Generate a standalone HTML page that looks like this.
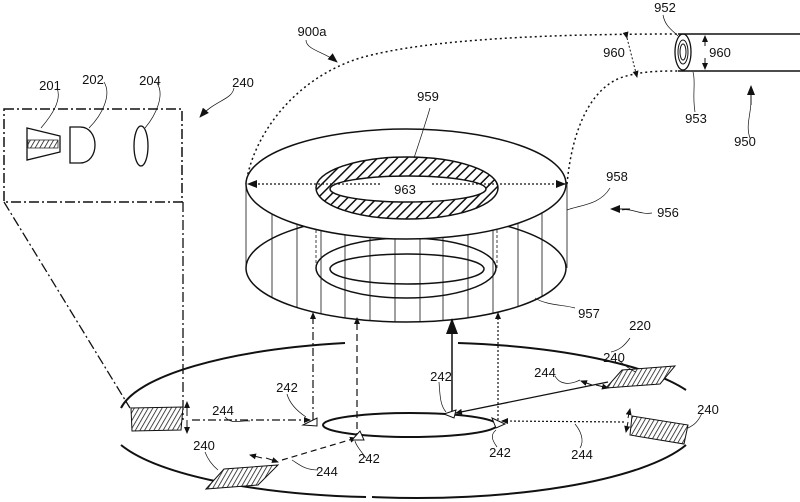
<!DOCTYPE html>
<html><head><meta charset="utf-8"><style>
html,body{margin:0;padding:0;background:#fff;}
svg{display:block;}
text{font-family:"Liberation Sans",sans-serif;font-size:13px;fill:#111;}
</style></head><body>
<svg width="800" height="502" viewBox="0 0 800 502" xmlns="http://www.w3.org/2000/svg">
<defs>
<pattern id="h" patternUnits="userSpaceOnUse" width="7" height="7" patternTransform="rotate(45)">
<rect width="7" height="7" fill="#fff"/><line x1="0" y1="0" x2="0" y2="7" stroke="#111" stroke-width="3"/>
</pattern>
<pattern id="h2" patternUnits="userSpaceOnUse" width="4" height="4" patternTransform="rotate(30)">
<rect width="4" height="4" fill="#fff"/><line x1="0" y1="0" x2="0" y2="4" stroke="#111" stroke-width="1.5"/>
</pattern>
<marker id="a" markerWidth="10" markerHeight="8" refX="9" refY="4" orient="auto" markerUnits="userSpaceOnUse"><path d="M0,0 L10,4 L0,8 Z" fill="#111"/></marker>
<marker id="as" markerWidth="7" markerHeight="6" refX="6" refY="3" orient="auto" markerUnits="userSpaceOnUse"><path d="M0,0 L7,3 L0,6 Z" fill="#111"/></marker>
</defs>
<g fill="none" stroke="#111">
<path d="M246,184 C252,140 290,80 360,58 C430,38 560,34 678,34" stroke-dasharray="2,3" stroke-width="1.5"/>
<path d="M567,184 C572,130 590,90 620,78 C640,71 660,71 678,71" stroke-dasharray="2,3" stroke-width="1.5"/>
<line x1="678" y1="34" x2="800" y2="34" stroke-width="1.5"/>
<line x1="678" y1="71" x2="800" y2="71" stroke-width="1.5"/>
<ellipse cx="683" cy="52" rx="8" ry="18" stroke-width="1.3"/>
<ellipse cx="683" cy="52" rx="5" ry="12" stroke-width="1"/>
<ellipse cx="683" cy="52" rx="3" ry="8" stroke-width="1"/>
<line x1="705" y1="46" x2="705" y2="36" marker-end="url(#as)"/>
<line x1="705" y1="58" x2="705" y2="69" marker-end="url(#as)"/>
<line x1="627" y1="38" x2="637" y2="77" stroke-dasharray="2,2" marker-end="url(#as)" marker-start="url(#as)"/>
<path d="M663,15 C665,26 672,30 678,36" stroke-width="0.7"/>
<path d="M695,112 C692,95 696,82 693,72" stroke-width="0.7"/>
<path d="M750,138 C745,125 752,112 751,97" stroke-width="0.7"/>
<line x1="751" y1="105" x2="751" y2="86" marker-end="url(#a)"/>
<path d="M306,40 C306,50 325,52 337,62" stroke-width="0.7" marker-end="url(#a)"/>
<path d="M234,88 C232,100 215,100 200,117" stroke-width="0.7" marker-end="url(#a)"/>
<rect x="4" y="109" width="178" height="93" stroke-dasharray="10,3,2,3" stroke-width="1.5"/>
<path d="M27,128 L60,136 L60,152 L27,160 Z" stroke-width="1.3"/>
<rect x="28" y="140" width="30" height="8" fill="url(#h2)" stroke-width="0.7"/>
<path d="M70,127 L80,127 C100,127 100,163 80,163 L70,163 Z" stroke-width="1.3"/>
<ellipse cx="141" cy="146" rx="7" ry="20" stroke-width="1.3"/>
<path d="M57,88 C62,100 52,115 41,128" stroke-width="0.7"/>
<path d="M104,82 C112,95 102,115 89,128" stroke-width="0.7"/>
<path d="M157,83 C165,95 156,115 145,128" stroke-width="0.7"/>
<line x1="4" y1="202" x2="130" y2="408" stroke-dasharray="10,3,2,3" stroke-width="1.3"/>
<line x1="183" y1="202" x2="183" y2="420" stroke-dasharray="10,3,2,3" stroke-width="1.3"/>
<line x1="246" y1="184" x2="246" y2="268" stroke-width="0.8"/>
<line x1="567" y1="184" x2="567" y2="268" stroke-width="0.8"/>
<g stroke-width="0.8">
<line x1="272" y1="214" x2="272" y2="298"/><line x1="297" y1="224" x2="297" y2="308"/>
<line x1="321" y1="231" x2="321" y2="314"/><line x1="345" y1="235" x2="345" y2="318"/>
<line x1="370" y1="238" x2="370" y2="321"/><line x1="395" y1="239" x2="395" y2="322"/>
<line x1="420" y1="239" x2="420" y2="322"/><line x1="443" y1="238" x2="443" y2="321"/>
<line x1="468" y1="235" x2="468" y2="318"/><line x1="493" y1="230" x2="493" y2="313"/>
<line x1="518" y1="223" x2="518" y2="307"/><line x1="542" y1="213" x2="542" y2="296"/>
</g>
<ellipse cx="406" cy="268" rx="160" ry="54" stroke-width="1.5"/>
<ellipse cx="406" cy="268" rx="90" ry="30" stroke-width="1.5"/>
<ellipse cx="407" cy="269" rx="77" ry="15" stroke-width="1.5"/>
<line x1="316" y1="190" x2="316" y2="268" stroke-dasharray="3,2" stroke-width="0.8"/>
<line x1="497" y1="190" x2="497" y2="268" stroke-dasharray="3,2" stroke-width="0.8"/>
<ellipse cx="406" cy="184" rx="160" ry="55" fill="#fff" stroke-width="1.5"/>
<path d="M316,188 A91,31 0 1 0 498,188 A91,31 0 1 0 316,188 Z M330,189 A78,13 0 1 1 486,189 A78,13 0 1 1 330,189 Z" fill="url(#h)" fill-rule="evenodd" stroke-width="1.5"/>
<line x1="380" y1="184" x2="248" y2="184" stroke-dasharray="2,2" stroke-width="1.3" marker-end="url(#a)"/>
<line x1="432" y1="184" x2="565" y2="184" stroke-dasharray="2,2" stroke-width="1.3" marker-end="url(#a)"/>
<path d="M414,158 C420,140 425,125 430,108" stroke-width="0.7"/>
<path d="M567,210 C580,205 600,205 610,188" stroke-width="0.7"/>
<path d="M575,308 C565,305 545,305 535,298" stroke-width="0.7"/>
<path d="M652,213 C640,215 632,208 622,210" stroke-width="0.7"/>
<line x1="630" y1="209" x2="611" y2="209" marker-end="url(#a)"/>
<path d="M345,343 A283,77 0 0 0 121,408" stroke-width="2"/>
<path d="M121,445 A283,77 0 0 0 366,497" stroke-width="2"/>
<path d="M372,497 A283,77 0 0 0 686,445" stroke-width="2"/>
<path d="M686,390 A283,77 0 0 0 458,343" stroke-width="2"/>
<path d="M630,338 C625,345 620,350 611,352" stroke-width="0.7"/>
<ellipse cx="410" cy="425" rx="87" ry="12" stroke-width="2"/>
<line x1="313" y1="420" x2="313" y2="313" stroke-dasharray="8,3,2,3" stroke-width="1.2" marker-end="url(#as)"/>
<line x1="357" y1="440" x2="357" y2="318" stroke-dasharray="7,4" stroke-width="1.2" marker-end="url(#as)"/>
<line x1="452" y1="412" x2="452" y2="332" stroke-width="1.5"/>
<path d="M446,334 L452,318 L458,334 Z" fill="#111" stroke="none"/>
<line x1="498" y1="420" x2="498" y2="313" stroke-dasharray="2,2" stroke-width="1.2" marker-end="url(#as)"/>
<line x1="192" y1="420" x2="310" y2="420" stroke-dasharray="8,3,2,3" stroke-width="1.2" marker-end="url(#as)"/>
<line x1="282" y1="460" x2="356" y2="438" stroke-dasharray="6,4" stroke-width="1.2" marker-end="url(#as)"/>
<line x1="608" y1="382" x2="456" y2="413" stroke-width="1.3" marker-end="url(#as)"/>
<line x1="624" y1="422" x2="502" y2="421" stroke-dasharray="2,2" stroke-width="1.2" marker-end="url(#as)"/>
<path d="M303,425 L317,418 L317,426 Z" fill="#fff" stroke-width="1"/>
<path d="M352,440 L360,431 L364,440 Z" fill="#fff" stroke-width="1"/>
<path d="M444,414 L456,410 L454,418 Z" fill="#fff" stroke-width="1"/>
<path d="M492,418 L505,424 L496,428 Z" fill="#fff" stroke-width="1"/>
<path d="M131,408 L183,407 L181,430 L132,431 Z" fill="url(#h2)" stroke-width="1"/>
<path d="M632,416 L688,425 L684,444 L630,435 Z" fill="url(#h2)" stroke-width="1"/>
<path d="M606,388 L622,370 L675,366 L660,384 Z" fill="url(#h2)" stroke-width="1"/>
<path d="M206,489 L224,469 L278,465 L258,485 Z" fill="url(#h2)" stroke-width="1"/>
<line x1="187" y1="416" x2="187" y2="402" marker-end="url(#as)"/><line x1="187" y1="420" x2="187" y2="433" marker-end="url(#as)"/>
<line x1="628" y1="418" x2="630" y2="409" marker-end="url(#as)"/><line x1="628" y1="422" x2="626" y2="432" marker-end="url(#as)"/>
<line x1="592" y1="385" x2="581" y2="381" marker-end="url(#as)"/><line x1="596" y1="385" x2="608" y2="388" marker-end="url(#as)"/>
<line x1="262" y1="458" x2="250" y2="455" marker-end="url(#as)"/><line x1="266" y1="458" x2="278" y2="462" marker-end="url(#as)"/>
<path d="M225,417 C232,425 240,420 250,421" stroke-width="0.7"/>
<path d="M287,394 C290,405 300,413 306,417" stroke-width="0.7"/>
<path d="M439,382 C440,395 440,405 446,412" stroke-width="0.7"/>
<path d="M555,376 C560,385 570,385 580,380" stroke-width="0.7"/>
<path d="M618,360 C625,365 630,370 636,372" stroke-width="0.7"/>
<path d="M702,413 C698,422 694,425 688,428" stroke-width="0.7"/>
<path d="M497,447 C492,440 490,435 496,430" stroke-width="0.7"/>
<path d="M580,448 C585,440 580,430 575,424" stroke-width="0.7"/>
<path d="M366,458 C360,450 356,445 355,441" stroke-width="0.7"/>
<path d="M318,470 C305,470 300,465 292,460" stroke-width="0.7"/>
<path d="M205,452 C208,460 212,465 218,470" stroke-width="0.7"/>
</g>
<g text-anchor="middle">
<text x="312" y="36">900a</text>
<text x="243" y="87">240</text>
<text x="50" y="90">201</text>
<text x="93" y="84">202</text>
<text x="150" y="85">204</text>
<text x="665" y="12">952</text>
<text x="614" y="57">960</text>
<text x="720" y="57">960</text>
<text x="696" y="123">953</text>
<text x="745" y="146">950</text>
<text x="428" y="101">959</text>
<text x="405" y="194">963</text>
<text x="617" y="181">958</text>
<text x="668" y="217">956</text>
<text x="589" y="318">957</text>
<text x="640" y="330">220</text>
<text x="223" y="415">244</text>
<text x="287" y="392">242</text>
<text x="441" y="381">242</text>
<text x="545" y="377">244</text>
<text x="614" y="362">240</text>
<text x="708" y="414">240</text>
<text x="500" y="457">242</text>
<text x="582" y="459">244</text>
<text x="369" y="463">242</text>
<text x="327" y="476">244</text>
<text x="204" y="450">240</text>
</g>
</svg>
</body></html>
